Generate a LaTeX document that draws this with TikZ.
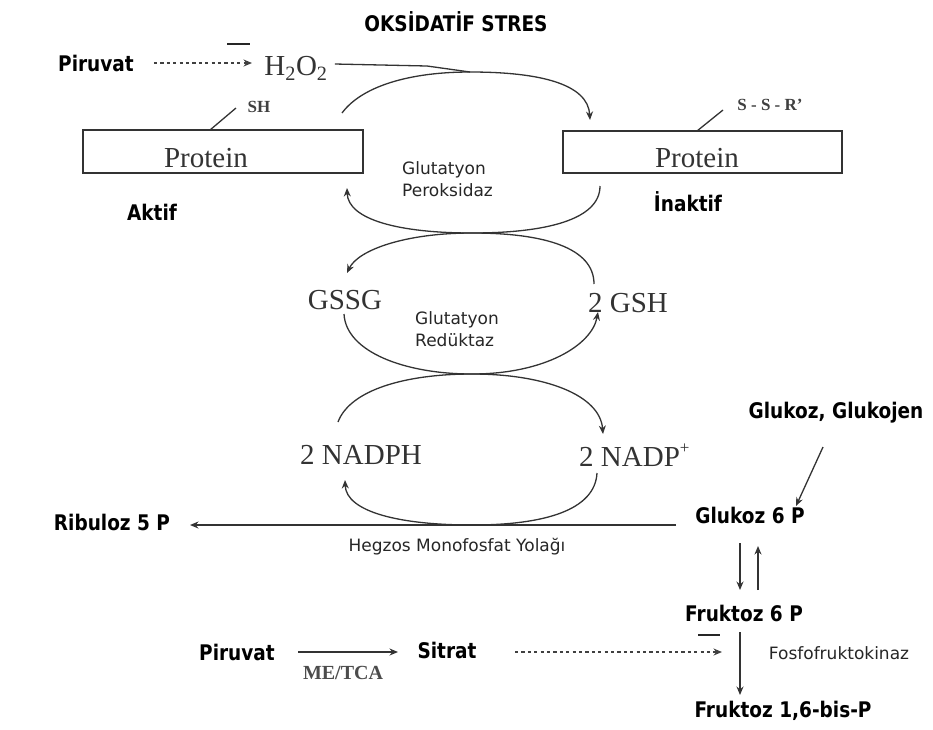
\documentclass[tikz,border=0pt]{standalone}
\usepackage{fontspec}
\setmainfont{Liberation Serif}
\newfontfamily\labfont{DejaVu Sans}
\newfontfamily\condfont{DejaVu Sans}[FakeStretch=0.86]
\usetikzlibrary{arrows.meta}
\begin{document}
\begin{tikzpicture}[x=1pt,y=-1pt,
  tip/.style={-{Stealth[length=8.5pt,width=7pt]}},
  conn/.style={line width=1.3pt, draw=black!80},
  bold/.style={font=\condfont\bfseries\fontsize{21.5}{24}\selectfont, inner sep=0pt},
  serif/.style={font=\fontsize{29}{31}\selectfont, inner sep=0pt, text=black!80},
  sserif/.style={font=\bfseries\fontsize{17}{18}\selectfont, inner sep=0pt, text=black!75},
  small/.style={font=\labfont\fontsize{17}{22}\selectfont, inner sep=0pt, align=left, text=black!85},
  pbox/.style={draw=black!80, line width=1.3pt, inner sep=0pt},
  dots/.style={dash pattern=on 3.2pt off 3.2pt, line width=1.7pt, draw=black!75},
  inhib/.style={line width=2.8pt, draw=black!85}
]
\useasboundingbox (0,0) rectangle (933,729);

% ---- oxidative stress header ----
\node[bold] (title) at (456,22) {OKSİDATİF STRES};
\node[bold] (piru1) at (96,63) {Piruvat};
\node[serif] (h2o2) at (296,68) {H\textsubscript{2}O\textsubscript{2}};
\coordinate (dz1) at (252,63);
\draw[dots,tip] ([xshift=20pt]piru1.east |- dz1) -- (dz1);
\draw[inhib] (227,44) -- (250,44);

% ---- proteins ----
\node[pbox, minimum width=280pt, minimum height=43pt] (protA) at (223,151.5) {};
\node[pbox, minimum width=279pt, minimum height=42pt] (protI) at (702.5,152) {};
\node[serif] (protAt) at (206,158) {Protein};
\node[serif] (protIt) at (697,158) {Protein};
\node[sserif] (sh) at (259,107) {SH};
\node[sserif] (ssr) at (770,105) {S - S - R'};
\coordinate (shA) at (210,130);
\coordinate (shB) at (236,108);
\coordinate (ssA) at (697,131);
\coordinate (ssB) at (723,110);
\draw[conn] (shA) -- (shB);
\draw[conn] (ssA) -- (ssB);
\node[bold] (aktif) at (152,212) {Aktif};
\node[bold] (inaktif) at (688,202) {İnaktif};

% oxidation of the protein by H2O2
\coordinate (oxs) at (342,113);
\coordinate (oxt) at (470,72);
\coordinate (oxe) at (590,120);
\draw[conn,tip] (oxs) .. controls (362,86) and (410,72) .. (oxt)
  .. controls (540,72) and (588,84) .. (oxe);
\draw[conn] ([xshift=7pt]h2o2.east |- 0,64) -- (427,66) -- (470,72);

% ---- glutathione peroxidase cycle ----
\node[small, anchor=west] (gpx) at (402,179) {Glutatyon\\Peroksidaz};
\coordinate (p1) at (600,186);
\coordinate (p2) at (472,233);
\coordinate (p3) at (347,188);
\draw[conn,tip] (p1) .. controls (600,220) and (545,233) .. (p2)
  .. controls (400,233) and (348,220) .. (p3);

% ---- glutathione reductase cycle ----
\node[serif] (gssg) at (345,300) {GSSG};
\node[serif] (gsh) at (628,303) {2 GSH};
\node[small, anchor=west] (gr) at (415,329) {Glutatyon\\Redüktaz};
\coordinate (r1) at (594,284);
\coordinate (r2) at (347,273);
\draw[conn,tip] (r1) .. controls (594,248) and (545,233) .. (p2)
  .. controls (405,233) and (358,250) .. (r2);
\coordinate (r3) at (344,314);
\coordinate (r4) at (472,374);
\coordinate (r5) at (598,312);
\draw[conn,tip] (r3) .. controls (346,352) and (405,374) .. (r4)
  .. controls (545,374) and (592,345) .. (r5);

% ---- NADPH cycle ----
\node[serif, anchor=west] (nadph) at (300,455) {2 NADPH};
\node[serif, anchor=west] (nadp) at (579,455) {2 NADP\raisebox{1.0ex}{\fontsize{17}{17}\selectfont +}};
\coordinate (n1) at (338,422);
\coordinate (n2) at (603,434);
\draw[conn,tip] (n1) .. controls (350,390) and (405,374) .. (r4)
  .. controls (545,374) and (600,395) .. (n2);
\coordinate (n3) at (597,473);
\coordinate (n4) at (472,525);
\coordinate (n5) at (345,480);
\draw[conn,tip] (n3) .. controls (595,510) and (545,525) .. (n4)
  .. controls (400,525) and (346,512) .. (n5);

% ---- hexose monophosphate shunt ----
\node[bold] (ribu) at (112,522) {Ribuloz 5 P};
\node[bold] (g6p) at (750,515) {Glukoz 6 P};
\node[bold] (glk) at (836,413) {Glukoz, Glukojen};
\node[small] (hmp) at (457,547) {Hegzos Monofosfat Yolağı};
\coordinate (hs) at (676,525);
\coordinate (he) at (190,525);
\draw[conn,tip] (hs) -- (he);
\coordinate (gk1) at (823,447);
\coordinate (gk2) at (796,506);
\draw[conn,tip] (gk1) -- (gk2);

% ---- glycolysis ----
\node[bold] (f6p) at (744,613) {Fruktoz 6 P};
\coordinate (d1) at (740,543);
\coordinate (d2) at (740,590);
\coordinate (u1) at (758,590);
\coordinate (u2) at (758,546);
\draw[conn,tip] (d1) -- (d2);
\draw[conn,tip] (u1) -- (u2);
\node[bold] (f16) at (783,711) {Fruktoz 1,6-bis-P};
\coordinate (k1) at (740,632);
\coordinate (k2) at (740,695);
\draw[conn,tip] (k1) -- (k2);
\node[small] (pfk) at (839,653) {Fosfofruktokinaz};
\draw[inhib] (698,635) -- (720,635);

% ---- citrate inhibition ----
\node[bold] (piru2) at (237,652) {Piruvat};
\node[bold] (sitrat) at (447,650) {Sitrat};
\node[font=\bfseries\fontsize{20}{22}\selectfont, inner sep=0pt, text=black!70] (metca) at (343,673) {ME/TCA};
\coordinate (ms) at (298,652);
\coordinate (me) at (398,652);
\draw[conn,line width=1.9pt,tip] (ms) -- (me);
\coordinate (ds) at (515,652);
\coordinate (dz) at (722,652);
\draw[dots,tip] (ds) -- (dz);
\end{tikzpicture}
\end{document}
